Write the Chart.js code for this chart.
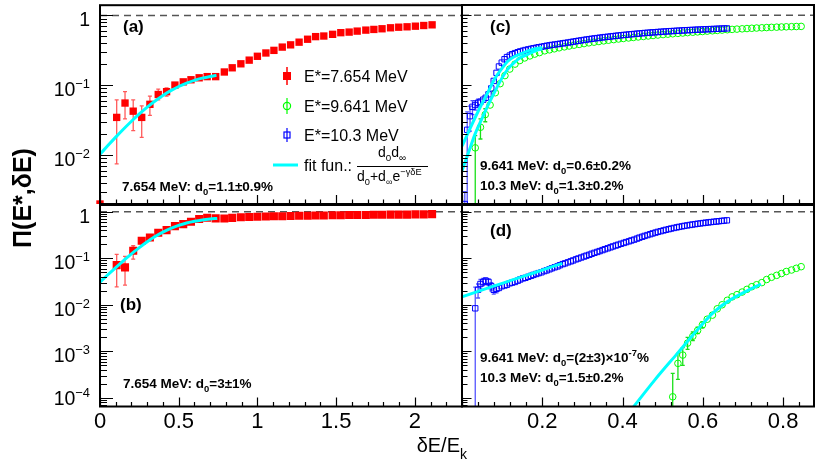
<!DOCTYPE html>
<html>
<head>
<meta charset="utf-8">
<title>Pi(E*, dE)</title>
<script src="https://cdn.jsdelivr.net/npm/chart.js"></script>
<style>
  body { margin: 0; background: #fff; }
  #wrap { position: relative; width: 819px; height: 463px; overflow: hidden; }
  #wrap canvas { position: absolute; left: 0; top: 0; }
</style>
</head>
<body>
<div id="wrap">
  <canvas id="pa" width="819" height="463"></canvas>
  <canvas id="pb" width="819" height="463"></canvas>
  <canvas id="pc" width="819" height="463"></canvas>
  <canvas id="pd" width="819" height="463"></canvas>
</div>
<script>
// ---- data ----
// 7.654 MeV (red), panels (a) and (b)
const redX = [0, 0.106, 0.159, 0.211, 0.265, 0.317, 0.370, 0.423, 0.476, 0.529,
  0.578, 0.630, 0.681, 0.735, 0.790, 0.840, 0.895, 0.948, 1.000, 1.054,
  1.105, 1.158, 1.211, 1.265, 1.319, 1.370, 1.422, 1.478, 1.530, 1.583,
  1.634, 1.689, 1.740, 1.792, 1.846, 1.898, 1.951, 2.004, 2.057, 2.110];
const redA = [0.002, 0.0347, 0.0557, 0.0426, 0.0347, 0.0534, 0.0738, 0.081, 0.1007, 0.112,
  0.12, 0.128, 0.133, 0.133, 0.155, 0.178, 0.203, 0.229, 0.26, 0.29,
  0.316, 0.352, 0.379, 0.414, 0.456, 0.497, 0.507, 0.536, 0.566, 0.577,
  0.596, 0.616, 0.63, 0.644, 0.665, 0.678, 0.687, 0.701, 0.717, 0.733];
const redB = [null, 0.0714, 0.0637, 0.145, 0.238, 0.281, 0.353, 0.404, 0.492, 0.543,
  0.61, 0.697, 0.743, 0.721, 0.72, 0.74, 0.76, 0.77, 0.78, 0.79,
  0.80, 0.80, 0.81, 0.82, 0.82, 0.83, 0.83, 0.84, 0.84, 0.85,
  0.85, 0.85, 0.86, 0.86, 0.87, 0.87, 0.87, 0.88, 0.88, 0.89];

// 10.3 MeV (blue), panels (c) and (d)
const blueX = [0.007, 0.013, 0.020, 0.026, 0.033, 0.040, 0.046, 0.053, 0.059, 0.066,
  0.073, 0.079, 0.086, 0.092, 0.099, 0.106, 0.112, 0.119, 0.125, 0.132,
  0.139, 0.145, 0.152, 0.158, 0.165, 0.172, 0.178, 0.185, 0.191, 0.198,
  0.205, 0.211, 0.218, 0.224, 0.231, 0.238, 0.244, 0.251, 0.257, 0.264,
  0.271, 0.277, 0.284, 0.290, 0.297, 0.304, 0.310, 0.317, 0.323, 0.330,
  0.337, 0.343, 0.350, 0.356, 0.363, 0.370, 0.376, 0.383, 0.389, 0.396,
  0.403, 0.409, 0.416, 0.422, 0.429, 0.436, 0.442, 0.449, 0.455, 0.462,
  0.469, 0.475, 0.482, 0.488, 0.495, 0.502, 0.508, 0.515, 0.521, 0.528,
  0.535, 0.541, 0.548, 0.554, 0.561, 0.568, 0.574, 0.581, 0.587, 0.594,
  0.601, 0.607, 0.614, 0.620, 0.627, 0.634, 0.640, 0.647, 0.653, 0.660];
const blueC = [0.002, 0.023, 0.036, 0.049, 0.052, 0.056, 0.058, 0.062, 0.066, 0.074,
  0.09, 0.115, 0.15, 0.185, 0.21, 0.235, 0.252, 0.265, 0.277, 0.287,
  0.296, 0.304, 0.311, 0.318, 0.325, 0.331, 0.337, 0.343, 0.349, 0.354,
  0.36, 0.366, 0.371, 0.376, 0.381, 0.386, 0.391, 0.396, 0.401, 0.407,
  0.413, 0.419, 0.425, 0.431, 0.437, 0.443, 0.449, 0.455, 0.46, 0.466,
  0.471, 0.477, 0.482, 0.487, 0.492, 0.497, 0.502, 0.507, 0.512, 0.517,
  0.522, 0.526, 0.531, 0.535, 0.54, 0.544, 0.548, 0.553, 0.557, 0.561,
  0.565, 0.569, 0.572, 0.576, 0.58, 0.583, 0.586, 0.59, 0.593, 0.596,
  0.599, 0.602, 0.605, 0.608, 0.611, 0.614, 0.616, 0.619, 0.622, 0.624,
  0.627, 0.629, 0.632, 0.634, 0.636, 0.639, 0.641, 0.644, 0.646, 0.648];
const blueD = [null, null, null, null, 0.0084, 0.021, 0.028, 0.031, 0.033, 0.031,
  0.025, 0.021, 0.022, 0.023, 0.025, 0.026, 0.027, 0.029, 0.03, 0.031,
  0.033, 0.035, 0.037, 0.038, 0.04, 0.042, 0.044, 0.046, 0.048, 0.05,
  0.053, 0.055, 0.058, 0.061, 0.064, 0.067, 0.071, 0.075, 0.078, 0.082,
  0.086, 0.09, 0.095, 0.099, 0.104, 0.109, 0.114, 0.119, 0.125, 0.131,
  0.137, 0.143, 0.15, 0.157, 0.164, 0.172, 0.18, 0.188, 0.196, 0.205,
  0.214, 0.223, 0.232, 0.242, 0.252, 0.265, 0.278, 0.29, 0.303, 0.316,
  0.33, 0.343, 0.357, 0.37, 0.383, 0.397, 0.41, 0.423, 0.436, 0.449,
  0.462, 0.474, 0.486, 0.498, 0.51, 0.521, 0.532, 0.543, 0.553, 0.563,
  0.573, 0.583, 0.592, 0.601, 0.61, 0.619, 0.628, 0.637, 0.646, 0.655];

// 9.641 MeV (green), panels (c) and (d)
const greenX = [0.021, 0.033, 0.046, 0.058, 0.070, 0.083, 0.095, 0.107, 0.119, 0.132,
  0.144, 0.156, 0.169, 0.181, 0.193, 0.206, 0.218, 0.230, 0.242, 0.255,
  0.267, 0.279, 0.292, 0.304, 0.316, 0.329, 0.341, 0.353, 0.365, 0.378,
  0.390, 0.402, 0.415, 0.427, 0.439, 0.452, 0.464, 0.476, 0.488, 0.501,
  0.513, 0.525, 0.538, 0.550, 0.562, 0.575, 0.587, 0.599, 0.611, 0.624,
  0.636, 0.648, 0.661, 0.673, 0.685, 0.698, 0.710, 0.722, 0.734, 0.747,
  0.759, 0.771, 0.784, 0.796, 0.808, 0.821, 0.833, 0.845];
const greenC = [null, 0.0127, 0.025, 0.038, 0.052, 0.078, 0.105, 0.137, 0.17, 0.2,
  0.225, 0.245, 0.262, 0.278, 0.292, 0.31, 0.32, 0.331, 0.342, 0.353,
  0.363, 0.373, 0.383, 0.393, 0.403, 0.412, 0.421, 0.43, 0.439, 0.448,
  0.457, 0.465, 0.473, 0.481, 0.489, 0.497, 0.505, 0.513, 0.521, 0.529,
  0.536, 0.543, 0.55, 0.557, 0.564, 0.571, 0.578, 0.585, 0.592, 0.599,
  0.606, 0.613, 0.62, 0.627, 0.633, 0.639, 0.645, 0.651, 0.656, 0.661,
  0.666, 0.671, 0.675, 0.679, 0.683, 0.686, 0.689, 0.692];
const greenDX = [0.525, 0.538, 0.550, 0.562, 0.575, 0.587, 0.599, 0.611, 0.624, 0.636,
  0.648, 0.661, 0.673, 0.685, 0.698, 0.710, 0.722, 0.734, 0.747, 0.759,
  0.771, 0.784, 0.796, 0.808, 0.821, 0.833, 0.845];
const greenD = [0.000105, 0.00055, 0.00083, 0.0015, 0.0021, 0.0028, 0.0037, 0.0049, 0.006, 0.0082,
  0.01, 0.0125, 0.0148, 0.0165, 0.0188, 0.0215, 0.0245, 0.027, 0.03, 0.035,
  0.039, 0.043, 0.047, 0.052, 0.056, 0.061, 0.066];

// error bars (only where visible)
const redAErrX = [0.106, 0.159, 0.211, 0.265, 0.317, 0.370, 0.423, 0.476];
const redAErrLo = [0.0075, 0.033, 0.0224, 0.018, 0.037, 0.062, 0.07, 0.094];
const redAErrHi = [0.062, 0.081, 0.062, 0.0506, 0.07, 0.088, 0.092, 0.108];
const redBErrX = [0.106, 0.159, 0.211, 0.265];
const redBErrLo = [0.0244, 0.0265, 0.096, 0.205];
const redBErrHi = [0.121, 0.11, 0.186, 0.27];
const blueCErrX = [0.007, 0.013, 0.020, 0.026, 0.033, 0.040];
const blueCErrLo = [0.001, 0.001, 0.022, 0.038, 0.044, 0.049];
const blueCErrHi = [0.003, 0.0415, 0.05, 0.06, 0.06, 0.063];
const greenCErrX = [0.033, 0.046, 0.058];
const greenCErrLo = [0.001, 0.017, 0.03];
const greenCErrHi = [0.019, 0.033, 0.046];
const blueDErrX = [0.033, 0.040, 0.046, 0.053, 0.059, 0.066, 0.073, 0.079, 0.086];
const blueDErrLo = [0.00001, 0.014, 0.022, 0.026, 0.028, 0.026, 0.02, 0.017, 0.018];
const blueDErrHi = [0.024, 0.028, 0.035, 0.037, 0.038, 0.036, 0.03, 0.026, 0.026];
const greenDErrX = [0.525, 0.538, 0.550, 0.562, 0.575, 0.587, 0.599];
const greenDErrLo = [0.00001, 0.00025, 0.0005, 0.0011, 0.0017, 0.0024, 0.0032];
const greenDErrHi = [0.000335, 0.0009, 0.0012, 0.002, 0.0026, 0.0033, 0.0043];

// fit curves (cyan)
const fitAX = [0, 0.05, 0.1, 0.15, 0.2, 0.25, 0.3, 0.35, 0.4, 0.45, 0.5, 0.55, 0.6, 0.65, 0.7, 0.74];
const fitAY = [0.0103, 0.0137, 0.0181, 0.0237, 0.0306, 0.0389, 0.0487, 0.0597, 0.0717, 0.0839, 0.0961, 0.1075, 0.1177, 0.1266, 0.134, 0.139];
const fitBX = [0, 0.05, 0.1, 0.15, 0.2, 0.25, 0.3, 0.35, 0.4, 0.45, 0.5, 0.55, 0.6, 0.65, 0.7, 0.745];
const fitBY = [0.0307, 0.0443, 0.0633, 0.0895, 0.125, 0.17, 0.227, 0.293, 0.365, 0.44, 0.511, 0.574, 0.627, 0.669, 0.70, 0.72];
const fitC1X = [0, 0.02, 0.048, 0.065, 0.081, 0.1, 0.114, 0.13, 0.147, 0.165, 0.18, 0.2];
const fitC1Y = [0.0134, 0.024, 0.052, 0.08, 0.122, 0.175, 0.22, 0.255, 0.283, 0.31, 0.33, 0.345];
const fitC2X = [0, 0.016, 0.032, 0.048, 0.065, 0.081, 0.098, 0.114, 0.13, 0.147, 0.163, 0.18, 0.2];
const fitC2Y = [0.006, 0.0108, 0.0196, 0.0316, 0.052, 0.079, 0.122, 0.17, 0.21, 0.25, 0.274, 0.305, 0.33];
const fitD1X = [0, 0.06, 0.12, 0.18, 0.25];
const fitD1Y = [0.0149, 0.0222, 0.033, 0.049, 0.078];
const fitD2X = [0.42, 0.48, 0.536, 0.585, 0.626, 0.667, 0.708, 0.745];
const fitD2Y = [0.000053, 0.00024, 0.00089, 0.0028, 0.0068, 0.0126, 0.0195, 0.028];

// axes / labels
const xTicksLeft = [0, 0.5, 1, 1.5, 2];
const xTicksRight = [0.2, 0.4, 0.6, 0.8];
const yExpTop = [0, -1, -2];
const yExpBottom = [0, -1, -2, -3, -4];
const legendLabels = ['E*=7.654 MeV', 'E*=9.641 MeV', 'E*=10.3 MeV'];
const xRangeLeft = [0, 2.3];
const xRangeRight = [0, 0.877];
const yRangeTop = [0.002, 1.4];
const yRangeBottom = [0.000065, 1.4];

const FONT = '"Liberation Sans", Arial, Helvetica, sans-serif';
const RED = '#ff0000', BLUE = '#0000ff', GREEN = '#00ff00', CYAN = '#00ffff';

function pts(xs, ys) {
  const out = [];
  xs.forEach((x, i) => { if (ys[i] != null) out.push({ x: x, y: ys[i] }); });
  return out;
}

// text with sub/superscripts
function rich(ctx, x, y, segs, size, weight, align, scl, raise, drop) {
  scl = scl || 0.7; raise = raise || 0.42; drop = drop || 0.3;
  const fontOf = k => weight + ' ' + (k === 'n' ? size : size * scl) + 'px ' + FONT;
  let w = 0;
  segs.forEach(s => { ctx.font = fontOf(s[1]); w += ctx.measureText(s[0]).width; });
  let cx = align === 'right' ? x - w : align === 'center' ? x - w / 2 : x;
  ctx.textAlign = 'left';
  ctx.textBaseline = 'alphabetic';
  segs.forEach(s => {
    ctx.font = fontOf(s[1]);
    const dy = s[1] === 'sub' ? size * drop : s[1] === 'sup' ? -size * raise : 0;
    ctx.fillText(s[0], cx, y + dy);
    cx += ctx.measureText(s[0]).width;
  });
}

function yLabels(ctx, ys, exps) {
  exps.forEach(e => {
    const ty = ys.getPixelForValue(Math.pow(10, e));
    const base = Math.min(ty + 11, 405);
    if (e === 0) rich(ctx, 90, base, [['1', 'n']], 19.5, 'normal', 'right');
    else rich(ctx, 90, base, [['10', 'n'], ['\u2212' + (-e), 'sup']], 19.5, 'normal', 'right', 0.66, 0.42);
  });
}

function xLabels(ctx, xs, vals) {
  ctx.font = '22px ' + FONT;
  ctx.textAlign = 'center';
  ctx.textBaseline = 'alphabetic';
  vals.forEach(v => ctx.fillText(String(v), xs.getPixelForValue(v), 428));
}

function panelLabel(ctx, t, x, y) {
  ctx.font = 'bold 17px ' + FONT;
  ctx.textAlign = 'left';
  ctx.textBaseline = 'alphabetic';
  ctx.fillText(t, x, y);
}

function legend(ctx) {
  const mx = 287, rows = [76, 106, 135];
  ctx.lineWidth = 1.5;
  ctx.strokeStyle = RED;
  ctx.beginPath(); ctx.moveTo(mx, 67); ctx.lineTo(mx, 85); ctx.stroke();
  ctx.fillStyle = RED; ctx.fillRect(mx - 4, 72, 8, 8);
  ctx.strokeStyle = GREEN; ctx.lineWidth = 1.2;
  ctx.beginPath(); ctx.moveTo(mx, 98); ctx.lineTo(mx, 114); ctx.stroke();
  ctx.beginPath(); ctx.arc(mx, 106, 3.6, 0, Math.PI * 2); ctx.stroke();
  ctx.strokeStyle = BLUE;
  ctx.beginPath(); ctx.moveTo(mx, 128); ctx.lineTo(mx, 142); ctx.stroke();
  ctx.strokeRect(mx - 3, 132, 6, 6);
  ctx.strokeStyle = CYAN; ctx.lineWidth = 3;
  ctx.beginPath(); ctx.moveTo(273, 165); ctx.lineTo(298, 165); ctx.stroke();

  ctx.fillStyle = '#000';
  ctx.font = '16px ' + FONT;
  ctx.textAlign = 'left'; ctx.textBaseline = 'alphabetic';
  legendLabels.forEach((t, i) => ctx.fillText(t, 304, rows[i] + 6));
  ctx.fillText('fit fun.:', 304, 171);
  rich(ctx, 392, 157, [['d', 'n'], ['0', 'sub'], ['d', 'n'], ['\u221e', 'sub']], 14, 'normal', 'center');
  ctx.strokeStyle = '#000'; ctx.lineWidth = 1;
  ctx.beginPath(); ctx.moveTo(357, 166.5); ctx.lineTo(428, 166.5); ctx.stroke();
  rich(ctx, 357, 181, [['d', 'n'], ['0', 'sub'], ['+d', 'n'], ['\u221e', 'sub'], ['e', 'n'], ['\u2212\u03b3\u03b4E', 'sup']], 14, 'normal', 'left', 0.66, 0.45);
}

function drawA(ctx, xs, ys) {
  yLabels(ctx, ys, yExpTop);
  panelLabel(ctx, '(a)', 123, 32);
  rich(ctx, 122, 191, [['7.654 MeV: d', 'n'], ['0', 'sub'], ['=1.1\u00b10.9%', 'n']], 13.5, 'bold', 'left');
  legend(ctx);
}

function drawB(ctx, xs, ys) {
  yLabels(ctx, ys, yExpBottom);
  xLabels(ctx, xs, xTicksLeft);
  panelLabel(ctx, '(b)', 120, 310);
  rich(ctx, 123, 388, [['7.654 MeV: d', 'n'], ['0', 'sub'], ['=3\u00b11%', 'n']], 13.5, 'bold', 'left');
  // axis titles
  rich(ctx, 467, 452, [['\u03b4E/E', 'n'], ['k', 'sub']], 20, 'normal', 'right', 0.7, 0.42, 0.35);
  ctx.save();
  ctx.translate(24, 198);
  ctx.rotate(-Math.PI / 2);
  ctx.font = 'bold 25px ' + FONT;
  ctx.textAlign = 'center';
  ctx.textBaseline = 'middle';
  ctx.fillText('\u03a0(E*,\u03b4E)', 0, 0);
  ctx.restore();
}

function drawC(ctx) {
  panelLabel(ctx, '(c)', 490, 32);
  rich(ctx, 480, 170, [['9.641 MeV: d', 'n'], ['0', 'sub'], ['=0.6\u00b10.2%', 'n']], 13.5, 'bold', 'left');
  rich(ctx, 480, 190, [['10.3 MeV: d', 'n'], ['0', 'sub'], ['=1.3\u00b10.2%', 'n']], 13.5, 'bold', 'left');
}

function drawD(ctx, xs) {
  xLabels(ctx, xs, xTicksRight);
  panelLabel(ctx, '(d)', 490, 236);
  rich(ctx, 480, 362, [['9.641 MeV: d', 'n'], ['0', 'sub'], ['=(2\u00b13)\u00d710', 'n'], ['-7', 'sup'], ['%', 'n']], 13.5, 'bold', 'left');
  rich(ctx, 480, 382, [['10.3 MeV: d', 'n'], ['0', 'sub'], ['=1.5\u00b10.2%', 'n']], 13.5, 'bold', 'left');
}

function errSet(x, lo, hi, color) { return { x: x, lo: lo, hi: hi, color: color }; }

const panels = {
  pa: { rect: [100, 2, 462, 204], xr: xRangeLeft, yr: yRangeTop, xMinor: 0.1, xMajor: 0.5, yLen: [13, 7], xLen: [9, 4.5],
        errs: [errSet(redAErrX, redAErrLo, redAErrHi, 'rgba(255,0,0,0.65)')], draw: drawA },
  pb: { rect: [100, 205, 462, 406.5], xr: xRangeLeft, yr: yRangeBottom, xMinor: 0.1, xMajor: 0.5, yLen: [13, 7], xLen: [9, 4.5],
        errs: [errSet(redBErrX, redBErrLo, redBErrHi, 'rgba(255,0,0,0.65)')], draw: drawB },
  pc: { rect: [462, 2, 819, 204], xr: xRangeRight, yr: yRangeTop, xMinor: 0.04, xMajor: 0.2, yLen: [9.5, 5.5], xLen: [9, 4.5],
        errs: [errSet(greenCErrX, greenCErrLo, greenCErrHi, 'rgba(0,220,0,0.9)'), errSet(blueCErrX, blueCErrLo, blueCErrHi, 'rgba(40,40,255,0.8)')], draw: drawC },
  pd: { rect: [462, 205, 819, 406.5], xr: xRangeRight, yr: yRangeBottom, xMinor: 0.04, xMajor: 0.2, yLen: [9.5, 5.5], xLen: [9, 4.5],
        errs: [errSet(greenDErrX, greenDErrLo, greenDErrHi, 'rgba(0,220,0,0.9)'), errSet(blueDErrX, blueDErrLo, blueDErrHi, 'rgba(40,40,255,0.8)')], draw: drawD }
};

const deco = {
  id: 'deco',
  beforeDatasetsDraw(chart) {
    const p = panels[chart.canvas.id];
    const ctx = chart.ctx, a = chart.chartArea, xs = chart.scales.x, ys = chart.scales.y;
    ctx.save();
    ctx.strokeStyle = '#555';
    ctx.lineWidth = 1.5;
    ctx.setLineDash([7, 5]);
    const y1 = ys.getPixelForValue(1);
    ctx.beginPath(); ctx.moveTo(a.left, y1); ctx.lineTo(a.right, y1); ctx.stroke();
    ctx.setLineDash([]);
    ctx.beginPath();
    ctx.rect(a.left, a.top, a.right - a.left, a.bottom - a.top);
    ctx.clip();
    p.errs.forEach(e => {
      ctx.strokeStyle = e.color;
      ctx.lineWidth = 1.3;
      e.x.forEach((xv, i) => {
        const px = xs.getPixelForValue(xv);
        const lo = ys.getPixelForValue(e.lo[i]), hi = ys.getPixelForValue(e.hi[i]);
        ctx.beginPath();
        ctx.moveTo(px, lo); ctx.lineTo(px, hi);
        ctx.moveTo(px - 2, lo); ctx.lineTo(px + 2, lo);
        ctx.moveTo(px - 2, hi); ctx.lineTo(px + 2, hi);
        ctx.stroke();
      });
    });
    ctx.restore();
  },
  afterDraw(chart) {
    const p = panels[chart.canvas.id];
    const ctx = chart.ctx, a = chart.chartArea, xs = chart.scales.x, ys = chart.scales.y;
    ctx.save();
    ctx.strokeStyle = '#000';
    ctx.lineWidth = 1.2;
    ctx.beginPath();
    // log ticks on the left edge, pointing inside
    const e0 = Math.floor(Math.log10(p.yr[0])), e1 = Math.floor(Math.log10(p.yr[1]));
    for (let e = e0; e <= e1; e++) {
      for (let m = 1; m <= 9; m++) {
        const v = m * Math.pow(10, e);
        if (v < p.yr[0] || v > p.yr[1]) continue;
        const y = Math.round(ys.getPixelForValue(v)) + 0.5;
        ctx.moveTo(a.left, y);
        ctx.lineTo(a.left + (m === 1 ? p.yLen[0] : p.yLen[1]), y);
      }
    }
    // x ticks on the bottom edge, pointing up
    const n = Math.round((p.xr[1] - p.xr[0]) / p.xMinor);
    for (let i = 0; i <= n; i++) {
      const v = p.xr[0] + i * p.xMinor;
      if (v > p.xr[1] + 1e-9) break;
      const q = v / p.xMajor;
      const major = Math.abs(q - Math.round(q)) < 1e-6;
      const x = Math.round(xs.getPixelForValue(v)) + 0.5;
      ctx.moveTo(x, a.bottom);
      ctx.lineTo(x, a.bottom - (major ? p.xLen[0] : p.xLen[1]));
    }
    ctx.stroke();
    ctx.lineWidth = 2;
    ctx.strokeRect(a.left, a.top, a.right - a.left, a.bottom - a.top);
    ctx.restore();

    ctx.save();
    ctx.fillStyle = '#000';
    p.draw(ctx, xs, ys, a);
    ctx.restore();
  }
};

function redSet(data, r, clip) {
  const d = { data: data, pointStyle: 'rect', pointRadius: r, backgroundColor: RED, borderColor: RED, borderWidth: 0, order: 1 };
  if (clip) d.clip = clip;
  return d;
}
function blueSet(data) {
  return { data: data, pointStyle: 'rect', pointRadius: 3.8, backgroundColor: 'rgba(0,0,0,0)', borderColor: BLUE, borderWidth: 1, order: 1 };
}
function greenSet(data) {
  return { data: data, pointStyle: 'circle', pointRadius: 3.3, backgroundColor: 'rgba(0,0,0,0)', borderColor: GREEN, borderWidth: 1, order: 2 };
}
function fitSet(data) {
  return { data: data, showLine: true, borderColor: CYAN, borderWidth: 3, pointRadius: 0, fill: false,
           cubicInterpolationMode: 'monotone', order: 0 };
}

function makePanel(id, datasets) {
  const p = panels[id];
  new Chart(document.getElementById(id), {
    type: 'scatter',
    data: { datasets: datasets },
    options: {
      responsive: false,
      animation: false,
      events: [],
      layout: { padding: { left: p.rect[0], top: p.rect[1], right: 819 - p.rect[2], bottom: 463 - p.rect[3] } },
      scales: {
        x: { type: 'linear', min: p.xr[0], max: p.xr[1], display: false },
        y: { type: 'logarithmic', min: p.yr[0], max: p.yr[1], display: false }
      },
      plugins: { legend: { display: false }, tooltip: { enabled: false } }
    },
    plugins: [deco]
  });
}

makePanel('pa', [
  fitSet(pts(fitAX, fitAY)),
  redSet(pts(redX, redA), 5.2, { left: 8, top: 8, right: 8, bottom: 0 })
]);
makePanel('pb', [
  fitSet(pts(fitBX, fitBY)),
  redSet(pts(redX, redB), 5.7)
]);
makePanel('pc', [
  fitSet(pts(fitC1X, fitC1Y)),
  fitSet(pts(fitC2X, fitC2Y)),
  blueSet(pts(blueX, blueC)),
  greenSet(pts(greenX, greenC))
]);
makePanel('pd', [
  fitSet(pts(fitD1X, fitD1Y)),
  fitSet(pts(fitD2X, fitD2Y)),
  blueSet(pts(blueX, blueD)),
  greenSet(pts(greenDX, greenD))
]);
</script>
</body>
</html>
